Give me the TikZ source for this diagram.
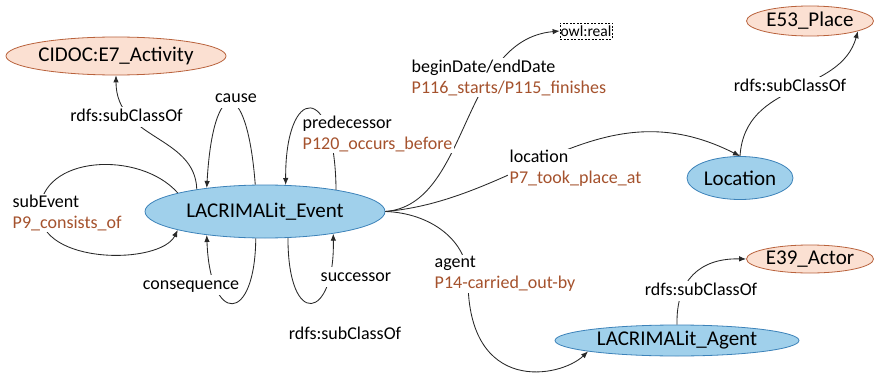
\documentclass[tikz,border=0pt]{standalone}
\usepackage{fontspec}
\setmainfont{Carlito}
\usetikzlibrary{shapes.geometric,arrows.meta}
\definecolor{clsfill}{RGB}{160,208,235}
\definecolor{clsdraw}{RGB}{60,130,185}
\definecolor{cifill}{RGB}{251,224,210}
\definecolor{cidraw}{RGB}{185,98,60}
\definecolor{prop}{RGB}{165,82,45}
\definecolor{edgecol}{RGB}{40,40,40}
\begin{document}
\begin{tikzpicture}[x=1pt,y=-1pt,
  cls/.style={ellipse, draw=clsdraw, fill=clsfill, line width=0.8pt, inner sep=0pt, font=\fontsize{21}{25}\selectfont},
  ci/.style={ellipse, draw=cidraw, fill=cifill, line width=0.8pt, inner sep=0pt, font=\fontsize{21}{25}\selectfont},
  lbl/.style={fill=white, inner sep=1.5pt, font=\fontsize{18}{21}\selectfont, text height=12.5pt, text depth=4pt},
  mlbl/.style={fill=white, inner sep=1.5pt, font=\fontsize{18}{21}\selectfont, align=left, anchor=west},
  conn/.style={draw=edgecol, line width=0.85pt, -{Latex[length=7pt,width=5.5pt]}}
]
\useasboundingbox (0,0) rectangle (880,377);
\fill[white] (0,0) rectangle (880,377);

% nodes
\node[cls, minimum width=240pt, minimum height=53pt] (ev) at (265,211.5) {LACRIMALit\_Event};
\node[ci, minimum width=220pt, minimum height=38pt] (cidoc) at (116,56) {CIDOC:E7\_Activity};
\node[ci, minimum width=127pt, minimum height=30pt] (e53) at (810,21) {E53\_Place};
\node[cls, minimum width=106pt, minimum height=43pt] (loc) at (740,178) {Location};
\node[ci, minimum width=127pt, minimum height=28pt] (e39) at (810,259) {E39\_Actor};
\node[cls, minimum width=244pt, minimum height=31pt] (agent) at (677,340.5) {LACRIMALit\_Agent};
\node[draw=black, line width=0.7pt, dash pattern=on 2pt off 1.5pt, inner xsep=0.5pt, inner ysep=0.5pt,
      minimum width=52pt, minimum height=16pt, font=\fontsize{15.5}{17}\selectfont] (owl) at (586,31) {owl:real};

% connectors
\draw[conn] (ev.162.9) .. controls (195,135) and (116,140) .. (cidoc.south);
\draw[conn] (ev.110.7) .. controls (247,75) and (213,75) .. (ev.158.2);
\draw[conn] (ev.17.8) .. controls (335,80) and (285,85) .. (ev.52.5);
\draw[conn] (ev.168.1) .. controls (140,150) and (40,155) .. (40,212) .. controls (40,265) and (160,265) .. (ev.192.4);
\draw[conn] (ev.251.2) .. controls (255,325) and (210,325) .. (ev.202.2);
\draw[conn] (ev.311.5) .. controls (288,330) and (335,320) .. (ev.342.9);
\draw[conn] (ev.east) .. controls (470,205) and (460,40) .. (owl.west);
\draw[conn] (ev.east) .. controls (520,200) and (600,85) .. (loc.north);
\draw[conn] (ev.east) .. controls (430,213) and (468,240) .. (468,280) .. controls (468,395) and (560,378) .. (agent.187.1);
\draw[conn] (loc.north) .. controls (745,80) and (840,95) .. (e53.-12.6);
\draw[conn] (agent.north) .. controls (676,280) and (700,258) .. (e39.west);

% labels
\node[lbl] (l1) at (126.5,117) {rdfs:subClassOf};
\node[lbl] (l2) at (236,98) {cause};
\node[mlbl] (l3) at (301,134) {predecessor\\\textcolor{prop}{P120\_occurs\_before}};
\node[mlbl] (l4) at (410,77.5) {beginDate/endDate\\\textcolor{prop}{P116\_starts/P115\_finishes}};
\node[mlbl] (l5) at (508,168.5) {location\\\textcolor{prop}{P7\_took\_place\_at}};
\node[mlbl] (l6) at (11,213) {subEvent\\\textcolor{prop}{P9\_consists\_of}};
\node[lbl] (l7) at (191,285) {consequence};
\node[lbl] (l8) at (356,277) {successor};
\node[lbl] (l9) at (345,335) {rdfs:subClassOf};
\node[mlbl] (l10) at (433,274) {agent\\\textcolor{prop}{P14-carried\_out-by}};
\node[lbl] (l11) at (790,87) {rdfs:subClassOf};
\node[lbl] (l12) at (701,291) {rdfs:subClassOf};
\end{tikzpicture}
\end{document}
